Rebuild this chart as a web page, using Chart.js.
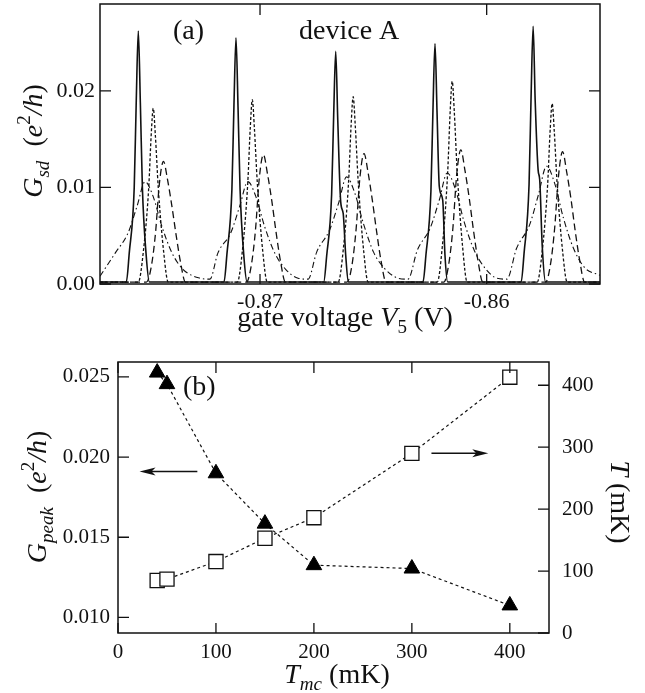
<!DOCTYPE html>
<html>
<head>
<meta charset="utf-8">
<script src="https://cdn.jsdelivr.net/npm/chart.js@4.4.0/dist/chart.umd.min.js"></script>
<style>
  html, body { margin: 0; padding: 0; background: #fff; }
  #wrap { position: relative; width: 645px; height: 693px; }
  canvas { position: absolute; left: 0; }
  #chartA { top: 0; }
  #chartB { top: 330px; }
</style>
</head>
<body>
<div id="wrap">
  <canvas id="chartA" width="645" height="345"></canvas>
  <canvas id="chartB" width="645" height="363"></canvas>
</div>
<script>
'use strict';

// ---- panel (a): G_sd against gate voltage V5, four temperatures ----
// solid line (coldest)
const solidV = [-0.87706,
  -0.87590, -0.87577, -0.87555, -0.87546, -0.87537, -0.87528, -0.87519, -0.87503, -0.87488,
  -0.87159, -0.87146, -0.87124, -0.87115, -0.87106, -0.87097, -0.87088, -0.87072, -0.87057,
  -0.86719, -0.86706, -0.86684, -0.86675, -0.86666, -0.86657, -0.86644, -0.86633, -0.86622, -0.86610,
  -0.86281, -0.86268, -0.86246, -0.86237, -0.86228, -0.86219, -0.86209, -0.86194, -0.86184, -0.86172,
  -0.85848, -0.85835, -0.85813, -0.85804, -0.85795, -0.85786, -0.85773, -0.85766, -0.85755, -0.85740,
  -0.85500];
const solidG = [0.0002,
  0.0002, 0.0032, 0.0100, 0.0190, 0.0262, 0.0188, 0.0100, 0.0032, 0.0002,
  0.0002, 0.0031, 0.0098, 0.0185, 0.0255, 0.0183, 0.0098, 0.0031, 0.0002,
  0.0002, 0.0029, 0.0093, 0.0175, 0.0241, 0.0170, 0.0085, 0.0073, 0.0030, 0.0002,
  0.0002, 0.0030, 0.0096, 0.0180, 0.0249, 0.0178, 0.0101, 0.0087, 0.0030, 0.0002,
  0.0002, 0.0032, 0.0103, 0.0195, 0.0267, 0.0190, 0.0118, 0.0108, 0.0040, 0.0002,
  0.0002];

// short dashes
const dotV = [-0.87706,
  -0.87537, -0.87515, -0.87491, -0.87480, -0.87471, -0.87462, -0.87449, -0.87425, -0.87405,
  -0.87100, -0.87078, -0.87054, -0.87043, -0.87034, -0.87025, -0.87012, -0.86988, -0.86968,
  -0.86655, -0.86633, -0.86609, -0.86598, -0.86589, -0.86580, -0.86567, -0.86543, -0.86523,
  -0.86218, -0.86196, -0.86172, -0.86161, -0.86152, -0.86143, -0.86130, -0.86106, -0.86086,
  -0.85777, -0.85755, -0.85731, -0.85720, -0.85711, -0.85702, -0.85689, -0.85665, -0.85645,
  -0.85500];
const dotG = [0.0002,
  0.0002, 0.0033, 0.0100, 0.0155, 0.0182, 0.0155, 0.0100, 0.0033, 0.0002,
  0.0002, 0.0034, 0.0105, 0.0162, 0.0191, 0.0162, 0.0105, 0.0034, 0.0002,
  0.0002, 0.0035, 0.0107, 0.0165, 0.0194, 0.0165, 0.0107, 0.0035, 0.0002,
  0.0002, 0.0038, 0.0116, 0.0179, 0.0210, 0.0179, 0.0116, 0.0038, 0.0002,
  0.0002, 0.0034, 0.0103, 0.0159, 0.0187, 0.0159, 0.0103, 0.0034, 0.0002,
  0.0002];

// long dashes
const dashV = [-0.87706,
  -0.87501, -0.87479, -0.87461, -0.87444, -0.87426, -0.87408, -0.87389, -0.87371, -0.87351, -0.87329,
  -0.87060, -0.87038, -0.87020, -0.87003, -0.86985, -0.86967, -0.86948, -0.86930, -0.86910, -0.86888,
  -0.86616, -0.86594, -0.86576, -0.86559, -0.86541, -0.86523, -0.86504, -0.86486, -0.86466, -0.86444,
  -0.86189, -0.86167, -0.86149, -0.86132, -0.86114, -0.86096, -0.86077, -0.86059, -0.86039, -0.86017,
  -0.85740, -0.85718, -0.85700, -0.85683, -0.85665, -0.85647, -0.85628, -0.85610, -0.85590, -0.85568,
  -0.85500];
const dashG = [0.0002,
  0.0002, 0.0019, 0.0053, 0.0104, 0.0127, 0.0108, 0.0081, 0.0052, 0.0023, 0.0002,
  0.0002, 0.0020, 0.0056, 0.0110, 0.0134, 0.0114, 0.0086, 0.0055, 0.0024, 0.0002,
  0.0002, 0.0020, 0.0057, 0.0111, 0.0135, 0.0115, 0.0086, 0.0055, 0.0024, 0.0002,
  0.0002, 0.0021, 0.0058, 0.0114, 0.0139, 0.0118, 0.0089, 0.0057, 0.0025, 0.0002,
  0.0002, 0.0021, 0.0058, 0.0112, 0.0137, 0.0116, 0.0088, 0.0056, 0.0025, 0.0002,
  0.0002];

// dash-dot (warmest, broadest)
const dashDotV = [-0.87706,
  -0.87639, -0.87582, -0.87542, -0.87507, -0.87472, -0.87432, -0.87388, -0.87339,
  -0.87265, -0.87221,
  -0.87186, -0.87129, -0.87089, -0.87054, -0.87019, -0.86979, -0.86935, -0.86886,
  -0.86832, -0.86788,
  -0.86750, -0.86693, -0.86653, -0.86618, -0.86583, -0.86543, -0.86499, -0.86450,
  -0.86391, -0.86347,
  -0.86306, -0.86249, -0.86209, -0.86174, -0.86139, -0.86099, -0.86055, -0.86006,
  -0.85955, -0.85911,
  -0.85868, -0.85811, -0.85771, -0.85736, -0.85701, -0.85661, -0.85617, -0.85568,
  -0.85500];
const dashDotG = [0.0008,
  0.0032, 0.0053, 0.0081, 0.0106, 0.0091, 0.0059, 0.0032, 0.0015,
  0.0006, 0.0005,
  0.0032, 0.0053, 0.0081, 0.0106, 0.0091, 0.0059, 0.0032, 0.0015,
  0.0006, 0.0005,
  0.0033, 0.0056, 0.0084, 0.0111, 0.0095, 0.0062, 0.0033, 0.0016,
  0.0006, 0.0005,
  0.0035, 0.0058, 0.0087, 0.0115, 0.0099, 0.0064, 0.0035, 0.0016,
  0.0006, 0.0005,
  0.0037, 0.0061, 0.0093, 0.0122, 0.0105, 0.0068, 0.0037, 0.0017,
  0.0009];

const gateTicks = [-0.87, -0.86];
const gsdTicks = [0, 0.01, 0.02];

// ---- panel (b): peak height and fitted electron temperature ----
const tmc = [40, 50, 100, 150, 200, 300, 400];
const gPeak = [0.02527, 0.02455, 0.01899, 0.01585, 0.01326, 0.01305, 0.01075];
const tElec = [84.7, 87.0, 115.3, 153.0, 186.2, 290.0, 413.0];

const tmcTicks = [0, 100, 200, 300, 400];
const gPeakTicks = [0.010, 0.015, 0.020, 0.025];
const tTicks = [0, 100, 200, 300, 400];

// arrows telling which axis each set belongs to (data units)
const leftArrow = { from: 81, to: 22, y: 0.0191 };
const rightArrow = { from: 320, to: 378, y: 290 };

const INK = '#111';
const SERIF = '"Liberation Serif", "Times New Roman", serif';

function font(size, italic) {
    return (italic ? 'italic ' : '') + size + 'px ' + SERIF;
}

// draw text runs (italics, sub/superscripts) centred on (x, y) baseline
function richText(ctx, runs, x, y, angle, size) {
    ctx.save();
    ctx.translate(x, y);
    ctx.rotate(angle);
    ctx.textAlign = 'left';
    ctx.textBaseline = 'alphabetic';
    ctx.fillStyle = INK;
    let total = 0;
    runs.forEach(r => {
        ctx.font = font(size * (r.s || 1), r.it);
        r.w = ctx.measureText(r.t).width;
        total += r.w;
    });
    let cx = -total / 2;
    runs.forEach(r => {
        ctx.font = font(size * (r.s || 1), r.it);
        ctx.fillText(r.t, cx, (r.dy || 0) * size);
        cx += r.w;
    });
    ctx.restore();
}

const SUB = { s: 0.68, dy: 0.26 };
const SUP = { s: 0.68, dy: -0.42 };

function frameAndTicks(ctx, a, xScale, xVals, leftScale, leftVals, rightScale, rightVals) {
    ctx.save();
    ctx.strokeStyle = INK;
    ctx.lineWidth = 1.5;
    ctx.strokeRect(a.left, a.top, a.right - a.left, a.bottom - a.top);
    ctx.lineWidth = 1.3;
    ctx.beginPath();
    xVals.forEach(v => {
        const p = xScale.getPixelForValue(v);
        ctx.moveTo(p, a.bottom); ctx.lineTo(p, a.bottom - 10);
        ctx.moveTo(p, a.top); ctx.lineTo(p, a.top + 11);
    });
    leftVals.forEach(v => {
        const p = leftScale.getPixelForValue(v);
        ctx.moveTo(a.left, p); ctx.lineTo(a.left + 11, p);
    });
    rightVals.forEach(v => {
        const p = rightScale.getPixelForValue(v);
        ctx.moveTo(a.right, p); ctx.lineTo(a.right - 11, p);
    });
    ctx.stroke();
    ctx.restore();
}

function arrow(ctx, x0, x1, y) {
    const dir = Math.sign(x1 - x0);
    ctx.save();
    ctx.strokeStyle = INK;
    ctx.fillStyle = INK;
    ctx.lineWidth = 1.5;
    ctx.beginPath();
    ctx.moveTo(x0, y);
    ctx.lineTo(x1 - dir * 10, y);
    ctx.stroke();
    ctx.beginPath();
    ctx.moveTo(x1, y);
    ctx.lineTo(x1 - dir * 16, y - 4);
    ctx.lineTo(x1 - dir * 12, y);
    ctx.lineTo(x1 - dir * 16, y + 4);
    ctx.closePath();
    ctx.fill();
    ctx.restore();
}

const panelA = {
    id: 'panelA',
    afterDraw(chart) {
        const { ctx, chartArea: a, scales: { x, y } } = chart;
        frameAndTicks(ctx, a, x, gateTicks, y, gsdTicks, y, gsdTicks);

        ctx.save();
        ctx.fillStyle = INK;
        ctx.font = font(22);
        ctx.textAlign = 'center';
        ctx.textBaseline = 'alphabetic';
        gateTicks.forEach(v => ctx.fillText(v.toFixed(2), x.getPixelForValue(v), a.bottom + 24));
        ctx.textAlign = 'right';
        ctx.textBaseline = 'middle';
        gsdTicks.forEach(v => ctx.fillText(v.toFixed(2), a.left - 5, y.getPixelForValue(v)));

        ctx.font = font(28);
        ctx.textAlign = 'left';
        ctx.textBaseline = 'alphabetic';
        ctx.fillText('(a)', 173, 39);
        ctx.fillText('device A', 299, 39);
        ctx.restore();

        richText(ctx, [
            { t: 'gate voltage ' }, { t: 'V', it: true }, { t: '5', ...SUB }, { t: ' (V)' }
        ], 345, 326, 0, 28);
        richText(ctx, [
            { t: 'G', it: true }, { t: 'sd', it: true, ...SUB }, { t: '  (' },
            { t: 'e', it: true }, { t: '2', ...SUP }, { t: '/', it: true }, { t: 'h', it: true }, { t: ')' }
        ], 42, 141, -Math.PI / 2, 28);
    }
};

const panelB = {
    id: 'panelB',
    afterDraw(chart) {
        const { ctx, chartArea: a, scales: { x, y, y2 } } = chart;
        frameAndTicks(ctx, a, x, tmcTicks, y, gPeakTicks, y2, tTicks);

        ctx.save();
        ctx.fillStyle = INK;
        ctx.font = font(21);
        ctx.textAlign = 'center';
        ctx.textBaseline = 'alphabetic';
        tmcTicks.forEach(v => ctx.fillText(String(v), x.getPixelForValue(v), a.bottom + 25));
        ctx.textAlign = 'right';
        ctx.textBaseline = 'middle';
        gPeakTicks.forEach(v => ctx.fillText(v.toFixed(3), a.left - 8, y.getPixelForValue(v)));
        ctx.textAlign = 'left';
        tTicks.forEach(v => ctx.fillText(String(v), a.right + 13, y2.getPixelForValue(v)));

        ctx.font = font(28);
        ctx.textBaseline = 'alphabetic';
        ctx.fillText('(b)', 183, 65);
        ctx.restore();

        arrow(ctx, x.getPixelForValue(leftArrow.from), x.getPixelForValue(leftArrow.to), y.getPixelForValue(leftArrow.y));
        arrow(ctx, x.getPixelForValue(rightArrow.from), x.getPixelForValue(rightArrow.to), y2.getPixelForValue(rightArrow.y));

        richText(ctx, [
            { t: 'T', it: true }, { t: 'mc', it: true, ...SUB }, { t: ' (mK)' }
        ], 337, 353, 0, 28);
        richText(ctx, [
            { t: 'G', it: true }, { t: 'peak', it: true, ...SUB }, { t: '  (' },
            { t: 'e', it: true }, { t: '2', ...SUP }, { t: '/', it: true }, { t: 'h', it: true }, { t: ')' }
        ], 46, 167, -Math.PI / 2, 28);
        richText(ctx, [
            { t: 'T', it: true }, { t: ' (mK)' }
        ], 611, 172, Math.PI / 2, 28);
    }
};

function trace(xs, ys, dash, width) {
    return {
        data: xs.map((v, i) => ({ x: v, y: ys[i] })),
        borderColor: INK,
        borderWidth: width,
        borderDash: dash,
        pointRadius: 0,
        fill: false,
        cubicInterpolationMode: 'monotone'
    };
}

const common = {
    responsive: false,
    animation: false,
    devicePixelRatio: 1,
    events: [],
    plugins: { legend: { display: false }, tooltip: { enabled: false } }
};

new Chart(document.getElementById('chartA'), {
    type: 'line',
    data: {
        datasets: [
            trace(solidV, solidG, [], 1.6),
            trace(dotV, dotG, [3, 2], 1.3),
            trace(dashV, dashG, [7, 4], 1.3),
            trace(dashDotV, dashDotG, [6, 3, 1.5, 3], 1.1)
        ]
    },
    options: {
        ...common,
        layout: { padding: { left: 100, right: 45, top: 4, bottom: 61 } },
        scales: {
            x: { type: 'linear', display: false, min: -0.87706, max: -0.855 },
            y: { type: 'linear', display: false, min: 0, max: 0.029 }
        }
    },
    plugins: [panelA]
});

new Chart(document.getElementById('chartB'), {
    type: 'line',
    data: {
        datasets: [
            {
                data: tmc.map((t, i) => ({ x: t, y: gPeak[i] })),
                yAxisID: 'y',
                borderColor: INK,
                borderWidth: 1.2,
                borderDash: [3, 3],
                pointStyle: 'triangle',
                pointRadius: 9,
                pointBackgroundColor: '#000',
                pointBorderColor: '#000',
                pointBorderWidth: 1
            },
            {
                data: tmc.map((t, i) => ({ x: t, y: tElec[i] })),
                yAxisID: 'y2',
                borderColor: INK,
                borderWidth: 1.2,
                borderDash: [3, 3],
                pointStyle: 'rect',
                pointRadius: 10,
                pointBackgroundColor: '#fff',
                pointBorderColor: INK,
                pointBorderWidth: 1.3
            }
        ]
    },
    options: {
        ...common,
        layout: { padding: { left: 118, right: 96, top: 32, bottom: 60 } },
        scales: {
            x: { type: 'linear', display: false, min: 0, max: 440 },
            y: { type: 'linear', display: false, min: 0.00903, max: 0.02593 },
            y2: { type: 'linear', display: false, position: 'right', min: 0, max: 437.5 }
        }
    },
    plugins: [panelB]
});
</script>
</body>
</html>
